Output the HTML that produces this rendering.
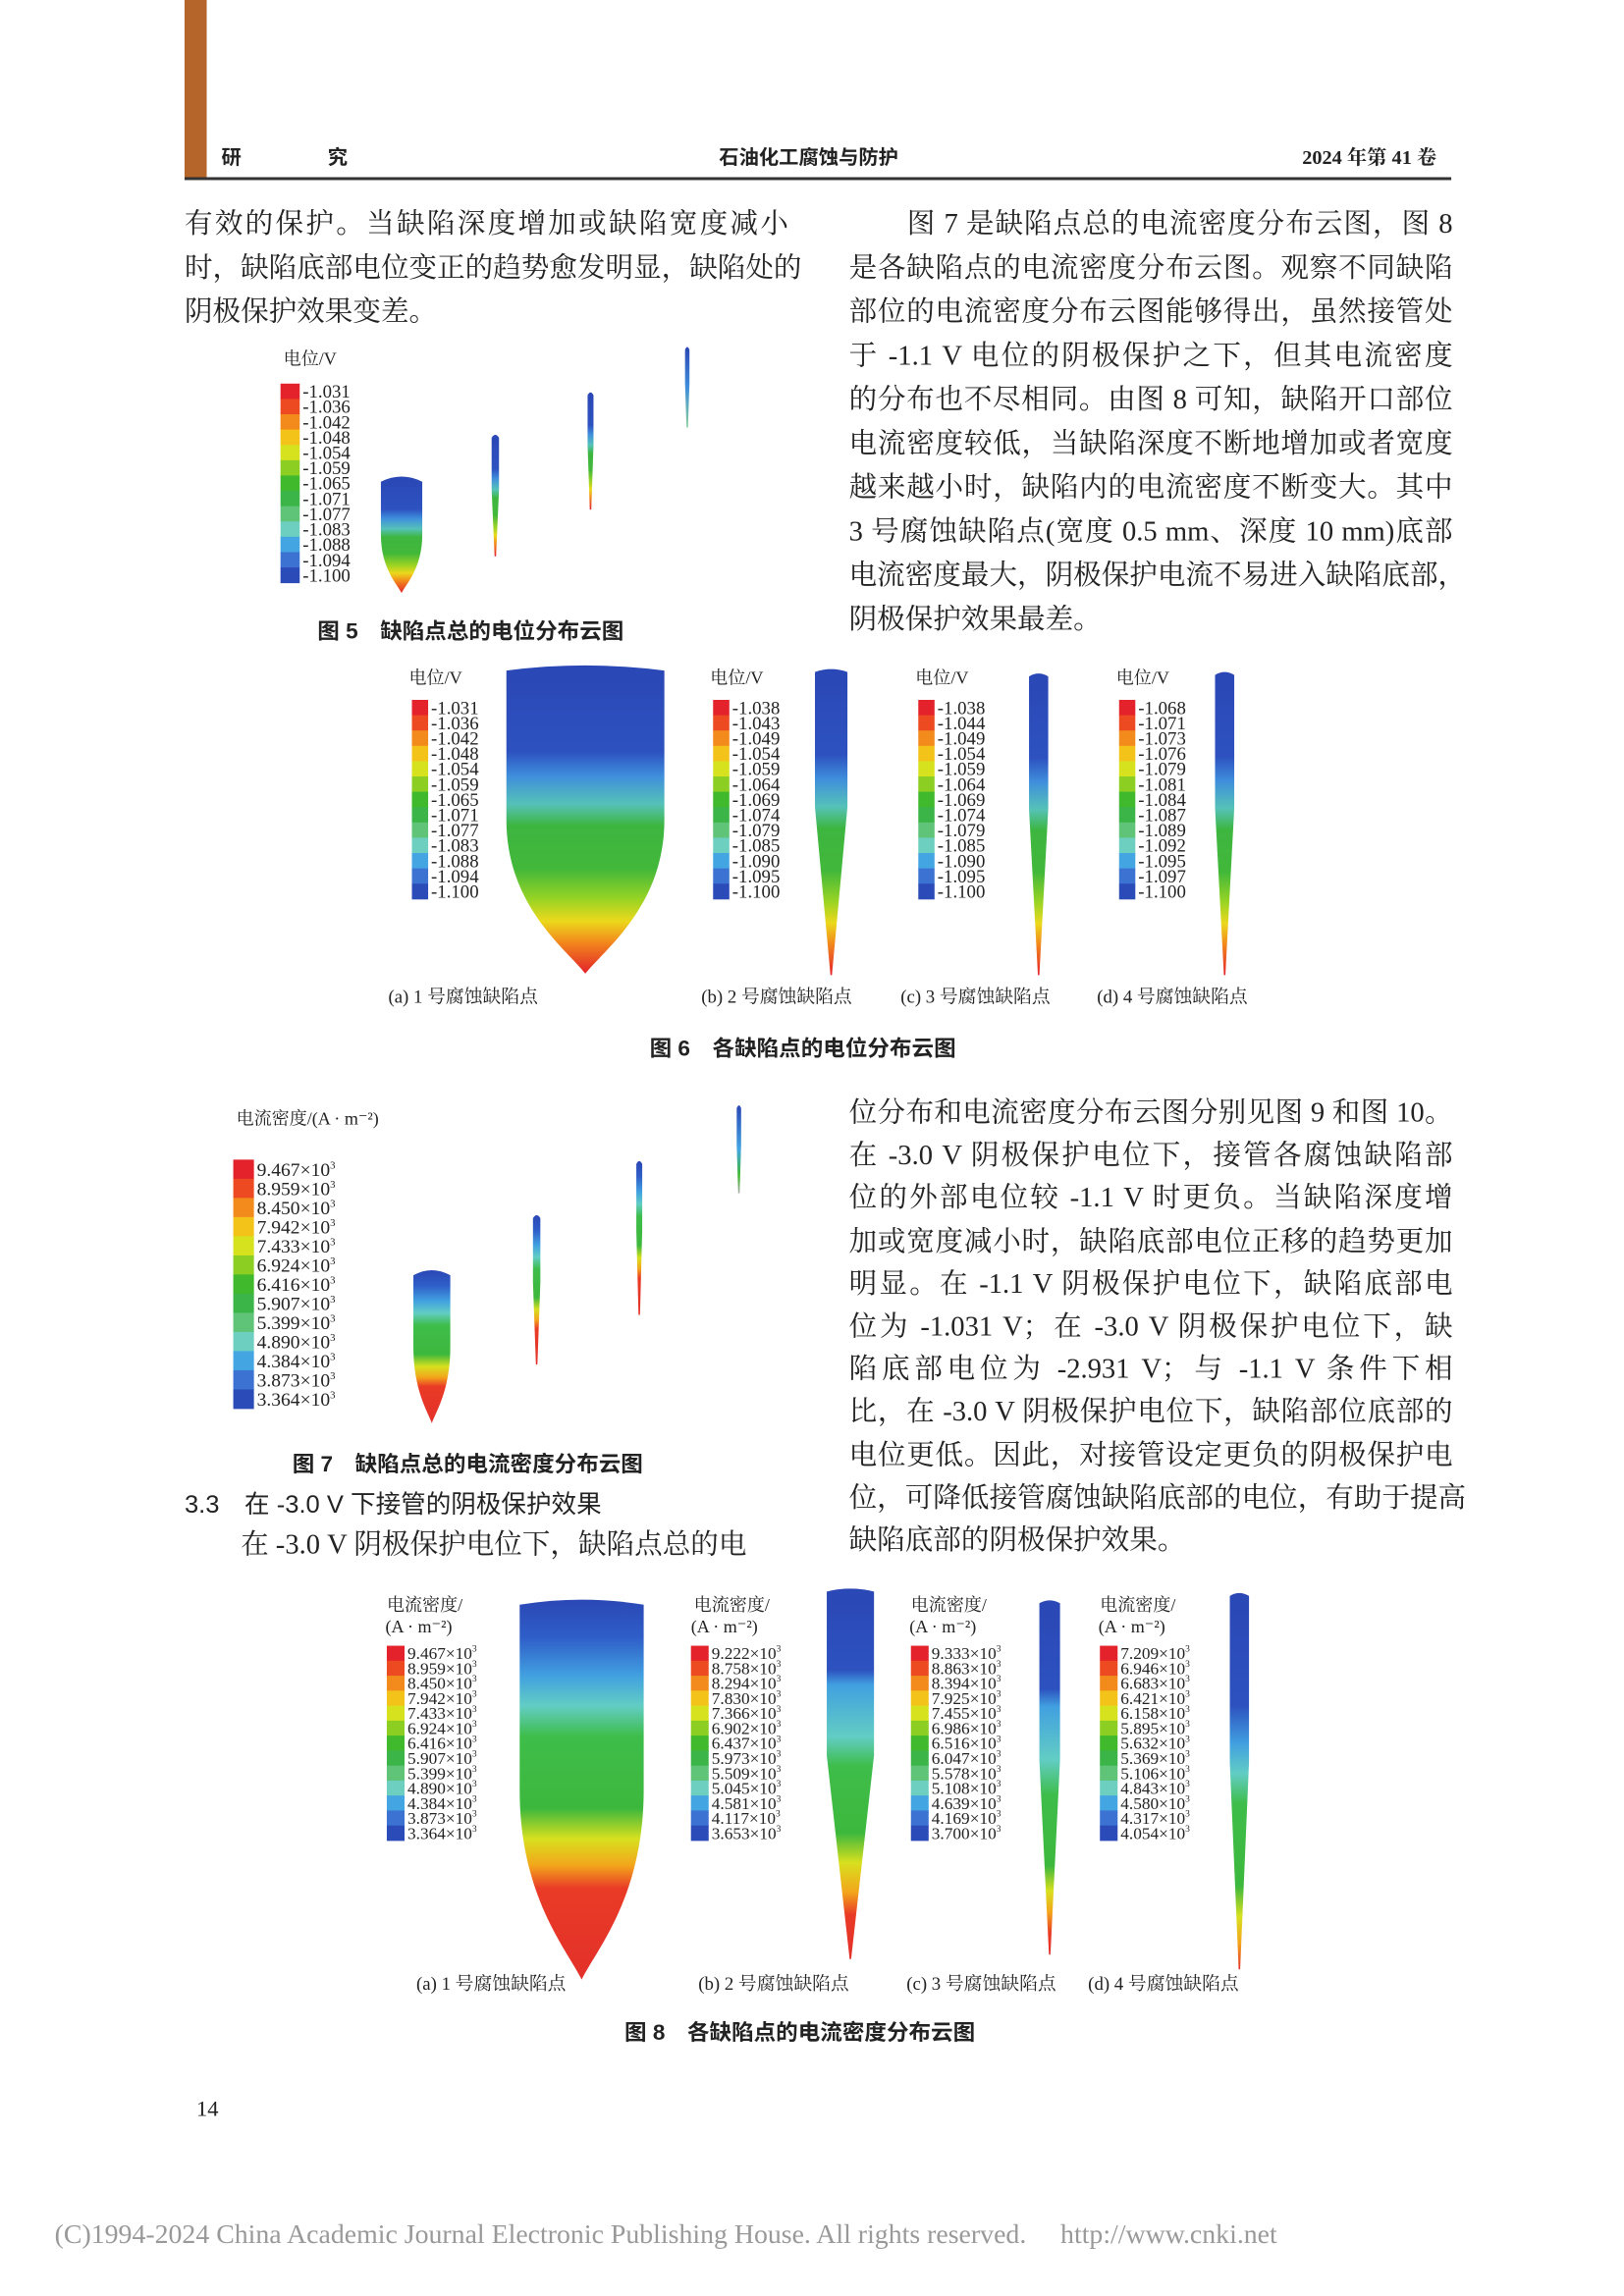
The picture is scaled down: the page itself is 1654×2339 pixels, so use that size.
<!DOCTYPE html>
<html><head><meta charset="utf-8">
<style>
html,body{margin:0;padding:0;background:#fff;width:1654px;height:2339px;overflow:hidden}
#page{position:absolute;left:0;top:0;width:1100px;height:1568px;transform:scale(1.50364,1.4916);transform-origin:0 0;font-family:"Liberation Serif","Noto Serif CJK SC",serif;color:#222}
.abs{position:absolute}
.col{position:absolute;width:409px;font-size:19px;line-height:30px}
.col div{white-space:nowrap;text-align:justify;text-align-last:justify;height:30px}
.col.tight{line-height:29.2px}
.col.tight div{height:29.2px}
.col div.last{text-align-last:left}
.cap{position:absolute;font-family:"Liberation Sans","Noto Sans CJK SC",sans-serif;font-size:15px;font-weight:bold;white-space:nowrap}
.sub{position:absolute;font-size:12.5px;white-space:nowrap}
svg{position:absolute;left:0;top:0}
</style></head><body>
<div id="page">
<div class="abs" style="left:125px;top:0;width:15px;height:122px;background:#b5652a"></div>
<div class="abs" style="left:150px;top:96px;font-family:'Liberation Sans','Noto Sans CJK SC',sans-serif;font-weight:bold;font-size:13.5px">研</div>
<div class="abs" style="left:222px;top:96px;font-family:'Liberation Sans','Noto Sans CJK SC',sans-serif;font-weight:bold;font-size:13.5px">究</div>
<div class="abs" style="left:487px;top:96px;font-family:'Liberation Sans','Noto Sans CJK SC',sans-serif;font-weight:bold;font-size:13.5px">石油化工腐蚀与防护</div>
<div class="abs" style="left:882px;top:96px;font-weight:bold;font-size:13.5px">2024 年第 41 卷</div>
<div class="abs" style="left:125px;top:121px;width:858px;height:2px;background:#333"></div>

<div class="col" style="left:125px;top:139px">
<div>有效的保护。当缺陷深度增加或缺陷宽度减小</div>
<div>时，缺陷底部电位变正的趋势愈发明显，缺陷处的</div>
<div class="last">阴极保护效果变差。</div>
</div>
<div class="col" style="left:575px;top:139px">
<div>　　图 7 是缺陷点总的电流密度分布云图，图 8</div>
<div>是各缺陷点的电流密度分布云图。观察不同缺陷</div>
<div>部位的电流密度分布云图能够得出，虽然接管处</div>
<div>于 -1.1 V 电位的阴极保护之下，但其电流密度</div>
<div>的分布也不尽相同。由图 8 可知，缺陷开口部位</div>
<div>电流密度较低，当缺陷深度不断地增加或者宽度</div>
<div>越来越小时，缺陷内的电流密度不断变大。其中</div>
<div>3 号腐蚀缺陷点(宽度 0.5 mm、深度 10 mm)底部</div>
<div>电流密度最大，阴极保护电流不易进入缺陷底部，</div>
<div class="last">阴极保护效果最差。</div>
</div>
<div class="col tight" style="left:575px;top:746px">
<div>位分布和电流密度分布云图分别见图 9 和图 10。</div>
<div>在 -3.0 V 阴极保护电位下，接管各腐蚀缺陷部</div>
<div>位的外部电位较 -1.1 V 时更负。当缺陷深度增</div>
<div>加或宽度减小时，缺陷底部电位正移的趋势更加</div>
<div>明显。在 -1.1 V 阴极保护电位下，缺陷底部电</div>
<div>位为 -1.031 V；在 -3.0 V 阴极保护电位下，缺</div>
<div>陷底部电位为 -2.931 V；与 -1.1 V 条件下相</div>
<div>比，在 -3.0 V 阴极保护电位下，缺陷部位底部的</div>
<div>电位更低。因此，对接管设定更负的阴极保护电</div>
<div>位，可降低接管腐蚀缺陷底部的电位，有助于提高</div>
<div class="last">缺陷底部的阴极保护效果。</div>
</div>
<div class="abs" style="left:125px;top:1013px;font-family:'Liberation Sans','Noto Sans CJK SC',sans-serif;font-size:17px;white-space:nowrap">3.3　在 -3.0 V 下接管的阴极保护效果</div>
<div class="col" style="left:125px;top:1041px">
<div class="last">　　在 -3.0 V 阴极保护电位下，缺陷点总的电</div>
</div>

<div class="cap" style="left:215px;top:420px">图 5　缺陷点总的电位分布云图</div>
<div class="cap" style="left:440px;top:705px">图 6　各缺陷点的电位分布云图</div>
<div class="cap" style="left:198px;top:989px">图 7　缺陷点总的电流密度分布云图</div>
<div class="cap" style="left:423px;top:1377px">图 8　各缺陷点的电流密度分布云图</div>

<div class="sub" style="left:263px;top:671px">(a) 1 号腐蚀缺陷点</div>
<div class="sub" style="left:475px;top:671px">(b) 2 号腐蚀缺陷点</div>
<div class="sub" style="left:610px;top:671px">(c) 3 号腐蚀缺陷点</div>
<div class="sub" style="left:743px;top:671px">(d) 4 号腐蚀缺陷点</div>
<div class="sub" style="left:282px;top:1345px">(a) 1 号腐蚀缺陷点</div>
<div class="sub" style="left:473px;top:1345px">(b) 2 号腐蚀缺陷点</div>
<div class="sub" style="left:614px;top:1345px">(c) 3 号腐蚀缺陷点</div>
<div class="sub" style="left:737px;top:1345px">(d) 4 号腐蚀缺陷点</div>

<div class="abs" style="left:133px;top:1433px;font-size:15px">14</div>
<div class="abs" style="left:37px;top:1512px;font-size:18.5px;color:#999;white-space:nowrap">(C)1994-2024 China Academic Journal Electronic Publishing House. All rights reserved.　 http://www.cnki.net</div>

<svg id="figs" width="1100" height="1568" viewBox="0 0 1100 1568"></svg>
</div>
<script>
const palette=["#e3222b","#ee4a22","#f38a1c","#f4c31a","#d7e21e","#8ccf22","#40b92c","#3cb548","#5fc378","#6dcfc0","#43a6e2","#3c73d2","#2b4bb8"];
const fig5Labels=["-1.031","-1.036","-1.042","-1.048","-1.054","-1.059","-1.065","-1.071","-1.077","-1.083","-1.088","-1.094","-1.100"];
const fig6aLabels=["-1.031","-1.036","-1.042","-1.048","-1.054","-1.059","-1.065","-1.071","-1.077","-1.083","-1.088","-1.094","-1.100"];
const fig6bLabels=["-1.038","-1.043","-1.049","-1.054","-1.059","-1.064","-1.069","-1.074","-1.079","-1.085","-1.090","-1.095","-1.100"];
const fig6cLabels=["-1.038","-1.044","-1.049","-1.054","-1.059","-1.064","-1.069","-1.074","-1.079","-1.085","-1.090","-1.095","-1.100"];
const fig6dLabels=["-1.068","-1.071","-1.073","-1.076","-1.079","-1.081","-1.084","-1.087","-1.089","-1.092","-1.095","-1.097","-1.100"];
const fig7Labels=["9.467","8.959","8.450","7.942","7.433","6.924","6.416","5.907","5.399","4.890","4.384","3.873","3.364"];
const fig8aLabels=["9.467","8.959","8.450","7.942","7.433","6.924","6.416","5.907","5.399","4.890","4.384","3.873","3.364"];
const fig8bLabels=["9.222","8.758","8.294","7.830","7.366","6.902","6.437","5.973","5.509","5.045","4.581","4.117","3.653"];
const fig8cLabels=["9.333","8.863","8.394","7.925","7.455","6.986","6.516","6.047","5.578","5.108","4.639","4.169","3.700"];
const fig8dLabels=["7.209","6.946","6.683","6.421","6.158","5.895","5.632","5.369","5.106","4.843","4.580","4.317","4.054"];

const NS="http://www.w3.org/2000/svg";
const svg=document.getElementById('figs');
function mk(tag,attrs,parent){const e=document.createElementNS(NS,tag);for(const k in attrs)e.setAttribute(k,attrs[k]);(parent||svg).appendChild(e);return e;}
function txt(x,y,s,size,name){const t=mk('text',{x:x,y:y,'font-size':size,'font-family':'Liberation Serif, Noto Serif CJK SC, serif',fill:'#222'});t.textContent=s;


return t;}
function colorbar(name,x,y,w,h,labels,sup,fs){
  const g=mk('g',{});
  
  
  const n=labels.length, bins=n;
  const bh=h/bins;
  for(let i=0;i<bins;i++){
    const r=mk('rect',{x:x,y:y+i*bh,width:w,height:bh+0.3,fill:palette[Math.round(i*(palette.length-1)/(bins-1))]},g);
    
    
  }
  for(let i=0;i<n;i++){
    const ly=y+i*bh+bh*0.5+fs*0.35;
    const t=mk('text',{x:x+w+2,y:ly,'font-size':fs,'font-family':'Liberation Serif, serif',fill:'#222'},g);
    t.textContent=labels[i]+(sup?'×10':'');
    
    
    if(sup){const s=mk('tspan',{dy:-5,'font-size':fs*0.55},t);s.textContent='3';}
  }
}
let gid=0;
function grad(stops){
  const id='g'+(gid++);
  let defs=svg.querySelector('defs')||mk('defs',{});
  const lg=mk('linearGradient',{id:id,x1:0,y1:0,x2:0,y2:1},defs);
  stops.forEach(s=>mk('stop',{offset:s[0],'stop-color':s[1]},lg));
  return 'url(#'+id+')';
}
const potStops=[[0,"#2a47b5"],[0.28,"#2d52c0"],[0.36,"#3f8fdc"],[0.45,"#55c2b8"],[0.52,"#3db640"],[0.66,"#42b83a"],[0.76,"#9ad424"],[0.83,"#ecd81c"],[0.9,"#f2861c"],[1,"#e3222b"]];
const curStops=[[0,"#2a47b5"],[0.1,"#2f5ec8"],[0.2,"#41a0e0"],[0.28,"#62cdc4"],[0.36,"#3ebd4a"],[0.55,"#3db83d"],[0.63,"#d8e01e"],[0.7,"#f3a51b"],[0.76,"#e93b26"],[1,"#e3302a"]];
function bullet(name,x,yt,w,yb,stops){
  const h=yb-yt;
  const d=`M${x},${yt+3} Q${x+w/2},${yt-4} ${x+w},${yt+3} L${x+w},${yt+h*0.5} C${x+w},${yt+h*0.78} ${x+w*0.62},${yb-h*0.08} ${x+w/2},${yb} C${x+w*0.38},${yb-h*0.08} ${x},${yt+h*0.78} ${x},${yt+h*0.5} Z`;
  const p=mk('path',{d:d,fill:grad(stops)});
  
  
}
function needle(name,x,yt,w,yb,stops){
  const h=yb-yt;
  const d=`M${x},${yt+2} Q${x+w/2},${yt-2} ${x+w},${yt+2} L${x+w},${yt+h*0.45} L${x+w/2+0.5},${yb} L${x+w/2-0.5},${yb} L${x},${yt+h*0.45} Z`;
  const p=mk('path',{d:d,fill:grad(stops)});
  
  
}
// Fig 5
txt(192,249,'电位/V',12,'fig5-legend-title');
colorbar('fig5-colorbar',190,262,13,136,fig5Labels,false,12.5);
bullet('fig5-defect-1',258,326,28,405,potStops);
needle('fig5-defect-2',333,297,5,380,potStops);
needle('fig5-defect-3',398,268,4,348,potStops);
needle('fig5-defect-4',464,237,3,292,[[0,"#2a47b5"],[0.5,"#3f8fdc"],[1,"#8ccf9a"]]);
// Fig 6
txt(277,467,'电位/V',12,'fig6a-legend-title');
colorbar('fig6a-colorbar',279,478,11,136,fig6aLabels,false,12.5);
bullet('fig6a-defect',343,455,107,665,potStops);
txt(481,467,'电位/V',12,'fig6b-legend-title');
colorbar('fig6b-colorbar',483,478,11,136,fig6bLabels,false,12.5);
needle('fig6b-defect',552,457,22,666,potStops);
txt(620,467,'电位/V',12,'fig6c-legend-title');
colorbar('fig6c-colorbar',622,478,11,136,fig6cLabels,false,12.5);
needle('fig6c-defect',697,460,13,666,potStops);
txt(756,467,'电位/V',12,'fig6d-legend-title');
colorbar('fig6d-colorbar',758,478,11,136,fig6dLabels,false,12.5);
needle('fig6d-defect',823,459,13,666,potStops);
// Fig 7
txt(160,768,'电流密度/(A · m⁻²)',12,'fig7-legend-title');
colorbar('fig7-colorbar',158,792,14,170,fig7Labels,true,13);
bullet('fig7-defect-1',280,868,25,972,curStops);
needle('fig7-defect-2',361,830,5,932,curStops);
needle('fig7-defect-3',431,793,4,898,curStops);
needle('fig7-defect-4',499,755,3,815,[[0,"#2a47b5"],[0.5,"#43a6e2"],[0.8,"#40b92c"],[1,"#aaa"]]);
// Fig 8
txt(262,1100,'电流密度/',12,'fig8a-legend-title');txt(261,1115,'(A · m⁻²)',12,'fig8a-legend-unit');
colorbar('fig8a-colorbar',262,1124,12,133,fig8aLabels,true,11.5);
bullet('fig8a-defect',352,1093,84,1352,curStops);
txt(470,1100,'电流密度/',12,'fig8b-legend-title');txt(468,1115,'(A · m⁻²)',12,'fig8b-legend-unit');
colorbar('fig8b-colorbar',468,1124,12,133,fig8bLabels,true,11.5);
needle('fig8b-defect',560,1085,32,1338,[[0,"#2a47b5"],[0.22,"#2d52c0"],[0.26,"#41a0e0"],[0.4,"#62cdc4"],[0.48,"#3ebd4a"],[0.66,"#3db83d"],[0.74,"#d8e01e"],[0.82,"#f3a51b"],[0.88,"#e93b26"],[1,"#e3302a"]]);
txt(617,1100,'电流密度/',12,'fig8c-legend-title');txt(616,1115,'(A · m⁻²)',12,'fig8c-legend-unit');
colorbar('fig8c-colorbar',617,1124,12,133,fig8cLabels,true,11.5);
needle('fig8c-defect',704,1093,14,1335,[[0,"#2a47b5"],[0.25,"#2d52c0"],[0.3,"#41a0e0"],[0.45,"#62cdc4"],[0.55,"#3ebd4a"],[0.75,"#3db83d"],[0.82,"#d8e01e"],[0.88,"#f3a51b"],[0.94,"#e93b26"],[1,"#e3302a"]]);
txt(745,1100,'电流密度/',12,'fig8d-legend-title');txt(744,1115,'(A · m⁻²)',12,'fig8d-legend-unit');
colorbar('fig8d-colorbar',745,1124,12,133,fig8dLabels,true,11.5);
needle('fig8d-defect',833,1088,13,1345,[[0,"#2a47b5"],[0.3,"#2d52c0"],[0.4,"#41a0e0"],[0.48,"#62cdc4"],[0.56,"#3ebd4a"],[0.78,"#3db83d"],[0.86,"#d8e01e"],[0.93,"#f3a51b"],[1,"#e3302a"]]);
</script>
</body></html>
